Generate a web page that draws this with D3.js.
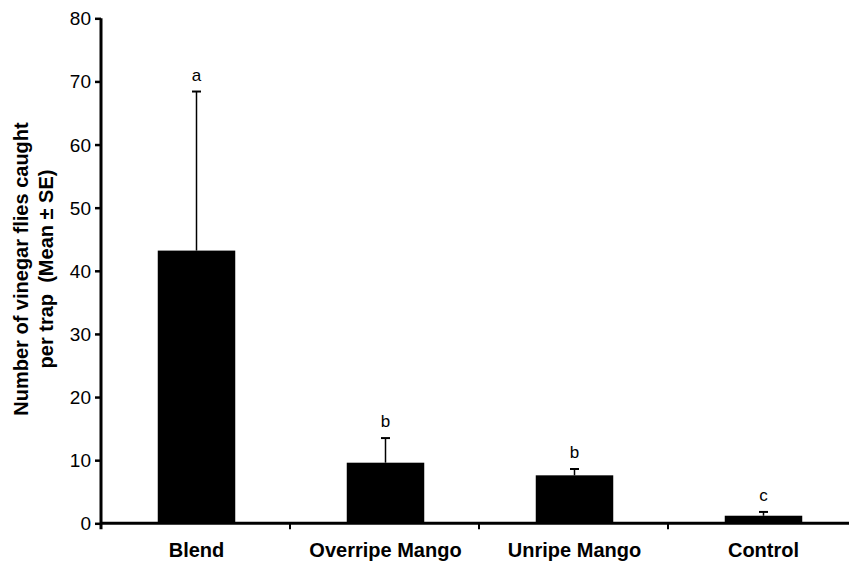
<!DOCTYPE html>
<html>
<head>
<meta charset="utf-8">
<script src="https://cdn.jsdelivr.net/npm/d3@7"></script>
<style>
  html, body { margin: 0; padding: 0; background: #fff; }
  svg { display: block; }
</style>
</head>
<body>
<svg id="chart" width="849" height="563"></svg>
<script>
// Trap catches per lure type
const categories = ["Blend", "Overripe Mango", "Unripe Mango", "Control"];
const means = [43.2, 9.6, 7.6, 1.2];
const errors = [25.2, 3.9, 1.0, 0.6];
const letters = ["a", "b", "b", "c"];
const yTicks = [0, 10, 20, 30, 40, 50, 60, 70, 80];

const svg = d3.select("#chart");
const margin = { left: 101, top: 18.3, bottom: 523.3 };

const x = d3.scaleBand()
  .domain(categories)
  .range([margin.left, 857])
  .paddingInner(0)
  .paddingOuter(0);

const y = d3.scaleLinear()
  .domain([0, 80])
  .range([margin.bottom, margin.top]);

const barW = x.bandwidth() * 0.41;
const font = "'Liberation Sans', Arial, sans-serif";

// Bars
svg.append("g").selectAll("rect")
  .data(categories)
  .join("rect")
  .attr("x", (d) => x(d) + x.bandwidth() / 2 - barW / 2 + 1)
  .attr("width", barW)
  .attr("y", (d, i) => y(means[i]))
  .attr("height", (d, i) => y(0) - y(means[i]))
  .attr("fill", "#000");

// Error bars (upper half only)
const eb = svg.append("g").attr("stroke", "#000").attr("stroke-width", 1.5);
categories.forEach((c, i) => {
  const cx = x(c) + x.bandwidth() / 2 + 1;
  eb.append("line")
    .attr("x1", cx).attr("x2", cx)
    .attr("y1", y(means[i])).attr("y2", y(means[i] + errors[i]));
  eb.append("line")
    .attr("x1", cx - 4.5).attr("x2", cx + 4.5)
    .attr("y1", y(means[i] + errors[i])).attr("y2", y(means[i] + errors[i]))
    .attr("stroke-width", 2);
});

// Significance letters
svg.append("g").selectAll("text")
  .data(categories)
  .join("text")
  .attr("x", (d) => x(d) + x.bandwidth() / 2 + 1)
  .attr("y", (d, i) => y(means[i] + errors[i]) - 11)
  .attr("text-anchor", "middle")
  .attr("font-family", font)
  .attr("font-size", 17)
  .text((d, i) => letters[i]);

// Y axis
const yAxis = d3.axisLeft(y).tickValues(yTicks).tickSize(6).tickPadding(4);
const gy = svg.append("g")
  .attr("transform", `translate(${margin.left},0)`)
  .call(yAxis);
gy.select(".domain")
  .attr("d", `M0,${margin.top}V${margin.bottom + 6}`)
  .attr("stroke-width", 3);
gy.selectAll(".tick line").attr("stroke-width", 2.5);
gy.selectAll(".tick text")
  .attr("font-family", font)
  .attr("font-size", 19)
  .attr("fill", "#000")
  .attr("dy", "0.34em");

// X axis with ticks between categories
const gx = svg.append("g")
  .attr("transform", `translate(0,${margin.bottom})`);
gx.append("line")
  .attr("x1", margin.left).attr("x2", 857)
  .attr("y1", 0).attr("y2", 0)
  .attr("stroke", "#000").attr("stroke-width", 3);
gx.selectAll("line.sep")
  .data(categories.slice(1))
  .join("line")
  .attr("class", "sep")
  .attr("x1", (d) => x(d)).attr("x2", (d) => x(d))
  .attr("y1", 0).attr("y2", 6)
  .attr("stroke", "#000").attr("stroke-width", 2);
gx.selectAll("text")
  .data(categories)
  .join("text")
  .attr("x", (d) => x(d) + x.bandwidth() / 2 + 1)
  .attr("y", 34)
  .attr("text-anchor", "middle")
  .attr("font-family", font)
  .attr("font-weight", "bold")
  .attr("font-size", 20)
  .text((d) => d);

// Y axis title
const title = svg.append("text")
  .attr("transform", "translate(0,269) rotate(-90)")
  .attr("text-anchor", "middle")
  .attr("font-family", font)
  .attr("font-weight", "bold")
  .attr("font-size", 20);
title.append("tspan").attr("x", 0).attr("y", 28).text("Number of vinegar flies caught");
title.append("tspan").attr("x", 0).attr("y", 53).attr("xml:space", "preserve").text("per trap  (Mean ± SE)");
</script>
</body>
</html>
